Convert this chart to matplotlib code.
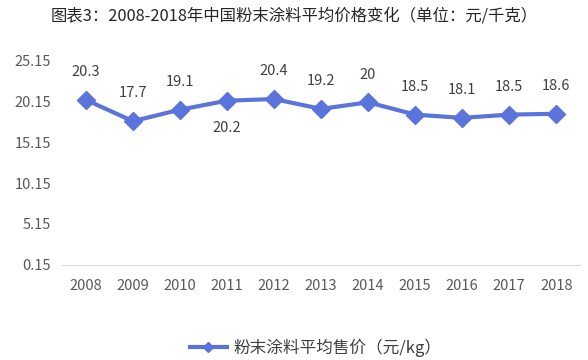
import matplotlib.pyplot as plt
from matplotlib.lines import Line2D

plt.rcParams['font.family'] = ['Noto Sans CJK SC', 'DejaVu Sans']

years = ['2008', '2009', '2010', '2011', '2012', '2013', '2014', '2015', '2016', '2017', '2018']
prices = [20.3, 17.7, 19.1, 20.2, 20.4, 19.2, 20, 18.5, 18.1, 18.5, 18.6]
price_labels = ['20.3', '17.7', '19.1', '20.2', '20.4', '19.2', '20', '18.5', '18.1', '18.5', '18.6']
below = [False, False, False, True, False, False, False, False, False, False, False]
yticks = [0.15, 5.15, 10.15, 15.15, 20.15, 25.15]

line_color = '#5B74DB'

fig = plt.figure(figsize=(5.88, 3.6), dpi=100)
ax = fig.add_axes([0.106, 0.264, 0.880, 0.569])

x = list(range(len(years)))
ax.plot(x, prices, color=line_color, lw=3, marker='D', ms=9, zorder=3)

for xi, v, lab, b in zip(x, prices, price_labels, below):
    off = -20 if b else 20
    ax.annotate(lab, (xi, v), xytext=(0, off), textcoords='offset points',
                ha='center', va='center', fontsize=10.5, color='#404040')

ax.set_xlim(-0.5, len(years) - 0.5)
ax.set_ylim(0.15, 25.15)
ax.set_yticks(yticks)
ax.set_yticklabels(['%.2f' % t for t in yticks])
ax.set_xticks(x)
ax.set_xticklabels(years)
ax.tick_params(axis='both', length=0, labelsize=10.5, colors='#595959')
ax.tick_params(axis='x', pad=10)
ax.tick_params(axis='y', pad=8)
for s in ['top', 'right', 'left']:
    ax.spines[s].set_visible(False)
ax.spines['bottom'].set_color('#D9D9D9')

fig.text(0.5, 0.955, '图表3：2008-2018年中国粉末涂料平均价格变化（单位：元/千克）',
         ha='center', va='center', fontsize=11.8, color='#262626')

handle = Line2D([], [], color=line_color, lw=3, marker='D', ms=5)
fig.legend([handle], ['粉末涂料平均售价（元/kg）'], loc='center',
           bbox_to_anchor=(0.537, 0.035), frameon=False, fontsize=12,
           handlelength=2.2, handletextpad=0.4, labelcolor='#404040')

fig.savefig('out.png', dpi=100)
